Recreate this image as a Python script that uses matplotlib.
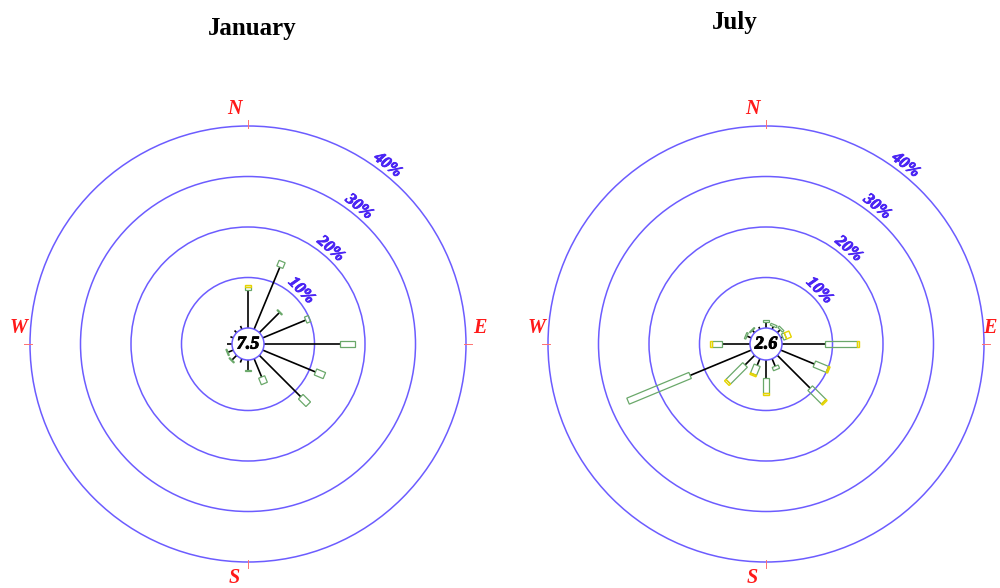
import numpy as np
import matplotlib
matplotlib.use("Agg")
import matplotlib.pyplot as plt
import matplotlib.patheffects as pe
from matplotlib.patches import Circle, Rectangle
from matplotlib.transforms import Affine2D

# ---- data -------------------------------------------------------------
directions = ["N", "NNE", "NE", "ENE", "E", "ESE", "SE", "SSE",
              "S", "SSW", "SW", "WSW", "W", "WNW", "NW", "NNW"]
angles_deg = np.arange(16) * 22.5

# frequency (%) per direction for three speed classes
jan_low = [7.6, 13.3, 5.6, 9.2, 15.0, 11.3, 11.6, 3.9,
           1.9, 0.8, 1.3, 1.1, 0.9, 0.6, 0.6, 0.7]
jan_mid = [0.6, 1.2, 0.2, 0.8, 3.0, 1.9, 2.1, 1.4,
           0.2, 0.0, 0.2, 0.2, 0.0, 0.0, 0.0, 0.0]
jan_high = [0.3, 0.0, 0.0, 0.0, 0.0, 0.0, 0.0, 0.0,
            0.0, 0.0, 0.0, 0.0, 0.0, 0.0, 0.0, 0.0]
jan_calm = 7.5

jul_low = [1.2, 0.6, 0.8, 0.4, 8.5, 7.2, 9.2, 1.6,
           3.6, 1.4, 2.7, 13.1, 5.6, 0.9, 0.6, 0.5]
jul_mid = [0.3, 0.4, 0.4, 0.6, 6.3, 2.8, 3.8, 0.7,
           3.0, 1.9, 4.7, 13.3, 2.0, 0.3, 0.2, 0.0]
jul_high = [0.0, 0.0, 0.0, 1.0, 0.4, 0.3, 0.3, 0.0,
            0.3, 0.3, 0.4, 0.0, 0.3, 0.0, 0.0, 0.0]
jul_calm = 2.6

rings = [10, 20, 30, 40]
ring_label_angles = [45, 41, 39, 38]
compass = {"N": 0, "E": 90, "S": 180, "W": 270}

# ---- styling ----------------------------------------------------------
PX = 5.05               # pixels per percent
R0 = 16 / PX            # radius of the calm circle
BAR_W = 6.5 / PX
RING_COLOR = "#6c5cff"
LABEL_COLOR = "#4a24f4"
GREEN = "#6aa86a"
YELLOW = "#e6d400"
SERIF = "Liberation Serif"

fig = plt.figure(figsize=(10, 5.88), dpi=100)


def make_axes(left_px, width_px, cx_px, cy_px):
    ax = fig.add_axes([left_px / 1000, 0, width_px / 1000, 1])
    ax.set_xlim((left_px - cx_px) / PX, (left_px + width_px - cx_px) / PX)
    ax.set_ylim((cy_px - 588) / PX, cy_px / PX)
    ax.axis("off")
    return ax


def heavy(color, w=0.6):
    return [pe.withStroke(linewidth=w, foreground=color)]


def draw_rose(ax, low, mid, high, calm, east_dx=45.9):
    # range rings
    for pct, ang in zip(rings, ring_label_angles):
        r = R0 + pct
        ax.add_patch(Circle((0, 0), r, fill=False, ec=RING_COLOR, lw=1.1, zorder=1))
        rl = r + 9 / PX
        a = np.deg2rad(ang)
        ax.text(rl * np.sin(a), rl * np.cos(a), f"{pct}%", rotation=-ang,
                ha="center", va="center", color=LABEL_COLOR, fontsize=12,
                family=SERIF, weight="bold", style="italic", zorder=2,
                path_effects=heavy(LABEL_COLOR))

    # compass ticks and letters
    r_out = R0 + rings[-1]
    offsets = {"N": (-2.6, 46.6), "E": (east_dx, 3.2), "S": (-2.8, -46.4), "W": (-45.5, 3.2)}
    for name, ang in compass.items():
        rot = Affine2D().rotate_deg(90 - ang) + ax.transData
        ax.plot([r_out - 0.3, r_out + 1.2], [0, 0], color="#ff7070", lw=0.7,
                transform=rot, zorder=2)
        ox, oy = offsets[name]
        ax.text(ox, oy, name, ha="center", va="center", color="#ff1a1a",
                fontsize=14.5, family=SERIF, weight="bold", style="italic")

    # direction bars
    for ang, p1, p2, p3 in zip(angles_deg, low, mid, high):
        rot = Affine2D().rotate_deg(90 - ang) + ax.transData
        ax.plot([R0, R0 + p1], [0, 0], color="black", lw=1.2,
                solid_capstyle="butt", transform=rot, zorder=3)
        if p2 > 0:
            ax.add_patch(Rectangle((R0 + p1, -BAR_W / 2), p2, BAR_W, fill=False,
                                   ec=GREEN, lw=0.9, transform=rot, zorder=4))
        if p3 > 0:
            ax.add_patch(Rectangle((R0 + p1 + p2, -BAR_W / 2), p3, BAR_W, fill=False,
                                   ec=YELLOW, lw=1.0, transform=rot, zorder=4))

    # calm circle
    ax.add_patch(Circle((0, 0), R0, fc="white", ec=RING_COLOR, lw=1.1, zorder=5))
    ax.text(0, 0, f"{calm}", ha="center", va="center", fontsize=13,
            family=SERIF, weight="bold", style="italic", color="black", zorder=6,
            path_effects=heavy("black", 0.7))


ax_jan = make_axes(0, 500, 248, 344)
draw_rose(ax_jan, jan_low, jan_mid, jan_high, jan_calm)

ax_jul = make_axes(500, 500, 766, 344)
draw_rose(ax_jul, jul_low, jul_mid, jul_high, jul_calm, east_dx=44.4)

fig.text(0.2517, 1 - 28 / 588, "January", ha="center", va="center",
         fontsize=18, family=SERIF, weight="bold")
fig.text(0.735, 1 - 22 / 588, "July", ha="center", va="center",
         fontsize=18, family=SERIF, weight="bold")

fig.savefig("out.png", dpi=100)
